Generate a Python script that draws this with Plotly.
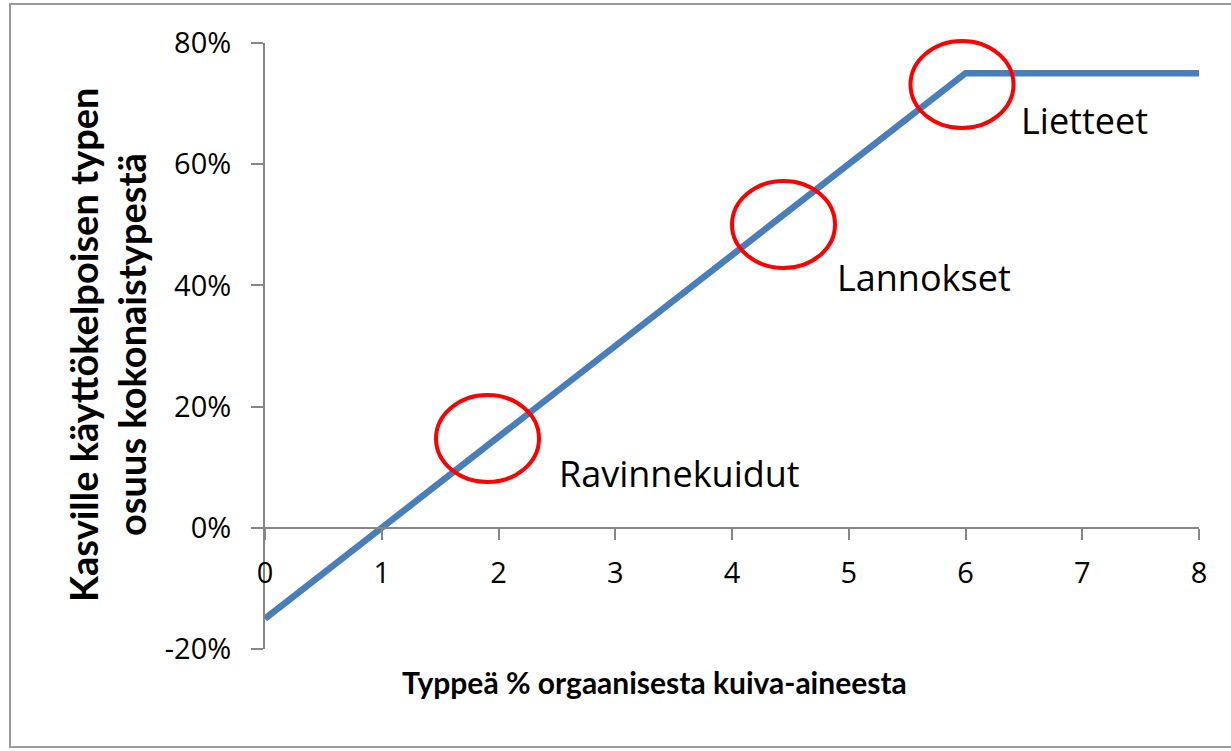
import plotly.graph_objects as go

# Data
x_vals = [0, 6, 8]
y_vals = [-0.15, 0.75, 0.75]
x_ticks = [0, 1, 2, 3, 4, 5, 6, 7, 8]
y_ticks = [-0.2, 0.0, 0.2, 0.4, 0.6, 0.8]
y_tick_labels = ["-20%", "0%", "20%", "40%", "60%", "80%"]
labels = ["Ravinnekuidut", "Lannokset", "Lietteet"]
x_title = "Typpeä % orgaanisesta kuiva-aineesta"
y_title_lines = ["Kasville käyttökelpoisen typen", "osuus kokonaistypestä"]

FONT = "Open Sans"
TITLE_FONT = "Lato"
AXIS_COL = "#868686"

fig = go.Figure()
fig.add_trace(go.Scatter(x=x_vals, y=y_vals, mode="lines",
                         line=dict(color="#4A7EBB", width=6.5),
                         showlegend=False, hoverinfo="skip"))

W, H = 1231, 751
L, R, T, B = 265, 32, 43, 102
pw = W - L - R
ph = H - T - B

def px_to_data(px, py):
    x = (px - L) / pw * 8
    y = 0.8 - (py - T) / ph * 1.0
    return x, y

def px_to_paper(px, py):
    return (px - L) / pw, 1 - (py - T) / ph

shapes = []
# circles (paper coords so they are not clipped)
circle_px = [(487.5, 438.5), (783.5, 224.5), (962, 84.5)]
rx, ry = 51.5, 43.5
for cx, cy in circle_px:
    x0, y0 = px_to_paper(cx - rx, cy + ry)
    x1, y1 = px_to_paper(cx + rx, cy - ry)
    shapes.append(dict(type="circle", xref="paper", yref="paper", x0=x0, x1=x1, y0=y0, y1=y1,
                       line=dict(color="#FF0000", width=4), layer="above"))
# outer border
bx0, by0 = px_to_paper(10, 747)
bx1, by1 = px_to_paper(1245, 4)
shapes.append(dict(type="rect", xref="paper", yref="paper", x0=bx0, x1=bx1, y0=by0, y1=by1,
                   line=dict(color="#9A9A9A", width=2), layer="below"))

annotations = []
label_px = [(557, 473), (835, 277), (1019, 120)]
for txt, (lx, ly) in zip(labels, label_px):
    ax, ay = px_to_data(lx, ly)
    annotations.append(dict(text=txt, x=ax, y=ay, xref="x", yref="y", xanchor="left",
                            yanchor="middle", showarrow=False,
                            font=dict(family=FONT, size=36, color="#000000")))
# x title
tx, ty = px_to_paper(654, 682)
annotations.append(dict(text="<b>" + x_title + "</b>", x=tx, y=ty, xref="paper", yref="paper",
                        xanchor="center", yanchor="middle", showarrow=False,
                        font=dict(family=TITLE_FONT, size=30, color="#000000")))
# y title lines
for line_txt, lx in zip(y_title_lines, [83, 131]):
    ax, ay = px_to_paper(lx, 345)
    annotations.append(dict(text="<b>" + line_txt + "</b>", x=ax, y=ay, xref="paper", yref="paper",
                            xanchor="center", yanchor="middle", showarrow=False, textangle=-90,
                            font=dict(family=TITLE_FONT, size=38, color="#000000")))

fig.update_layout(
    width=W, height=H,
    margin=dict(l=L, r=R, t=T, b=B),
    paper_bgcolor="white", plot_bgcolor="white",
    shapes=shapes, annotations=annotations,
    xaxis=dict(range=[0, 8], tickvals=x_ticks, ticktext=[str(v) for v in x_ticks],
               showgrid=False, zeroline=False, showline=True, linecolor=AXIS_COL, linewidth=2,
               ticks="outside", ticklen=11, tickwidth=2, tickcolor=AXIS_COL,
               anchor="free", position=0.2, ticklabelstandoff=8,
               tickfont=dict(family=FONT, size=29, color="#000000")),
    yaxis=dict(range=[-0.2, 0.8], tickvals=y_ticks, ticktext=y_tick_labels,
               showgrid=False, zeroline=False, showline=True, linecolor=AXIS_COL, linewidth=2,
               ticks="outside", ticklen=12, tickwidth=2, tickcolor=AXIS_COL,
               ticklabelstandoff=14,
               tickfont=dict(family=FONT, size=29, color="#000000")),
)

fig.write_html("out.html", config={"displayModeBar": False},
               post_script="document.body.style.margin='0';document.body.style.overflow='hidden';")
